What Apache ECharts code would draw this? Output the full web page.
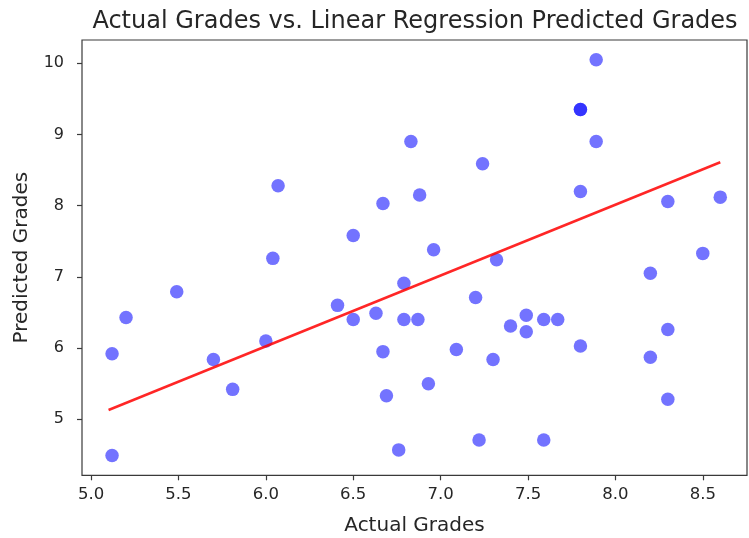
<!DOCTYPE html>
<html>
<head>
<meta charset="utf-8">
<script src="https://cdn.jsdelivr.net/npm/echarts@6/dist/echarts.min.js"></script>
<style>html,body{margin:0;padding:0;background:#fff}#c{width:749px;height:538px}</style>
</head>
<body>
<div id="c"></div>
<script>
var titleText = 'Actual Grades vs. Linear Regression Predicted Grades';
var xName = 'Actual Grades';
var yName = 'Predicted Grades';

var actual = [5.12, 5.12, 5.20, 5.49, 5.70, 5.81, 6.00, 6.04, 6.07, 6.41,
              6.50, 6.50, 6.63, 6.67, 6.67, 6.69, 6.76, 6.79, 6.79, 6.83,
              6.87, 6.88, 6.93, 6.96, 7.09, 7.20, 7.22, 7.24, 7.30, 7.32,
              7.40, 7.49, 7.49, 7.59, 7.59, 7.67, 7.80, 7.80, 7.80, 7.80,
              7.89, 7.89, 8.20, 8.20, 8.30, 8.30, 8.30, 8.50, 8.60];
var predicted = [5.92, 4.49, 6.43, 6.79, 5.84, 5.42, 6.10, 7.26, 8.28, 6.60,
                 6.40, 7.58, 6.49, 8.03, 5.95, 5.33, 4.57, 6.91, 6.40, 8.90,
                 6.40, 8.15, 5.50, 7.38, 5.98, 6.71, 4.71, 8.59, 5.84, 7.24,
                 6.31, 6.46, 6.23, 6.40, 4.71, 6.40, 9.35, 9.35, 8.20, 6.03,
                 10.05, 8.90, 7.05, 5.87, 8.06, 6.26, 5.28, 7.33, 8.12];

var fitX = [5.10, 8.60];
var fitY = [5.13, 8.61];

var xTicks = [5.0, 5.5, 6.0, 6.5, 7.0, 7.5, 8.0, 8.5];
var xTickLabels = ['5.0', '5.5', '6.0', '6.5', '7.0', '7.5', '8.0', '8.5'];
var yTicks = [5, 6, 7, 8, 9, 10];
var yTickLabels = ['5', '6', '7', '8', '9', '10'];

var font = 'DejaVu Sans';
var scatterData = actual.map(function (x, i) { return [x, predicted[i]]; });
var fitData = fitX.map(function (x, i) { return [x, fitY[i]]; });

var chart = echarts.init(document.getElementById('c'), null, {renderer: 'canvas'});
chart.setOption({
  animation: false,
  backgroundColor: '#ffffff',
  title: {
    text: titleText,
    left: 410,
    textAlign: 'center',
    top: 5,
    textStyle: {fontFamily: font, fontSize: 24, fontWeight: 'normal', color: '#262626'}
  },
  grid: {
    left: 82, top: 40, width: 665, height: 435.3,
    outerBoundsMode: 'none', containLabel: false,
    show: true, borderColor: '#3a3a3a', borderWidth: 1.2, backgroundColor: 'transparent'
  },
  xAxis: {
    type: 'value',
    min: 4.948, max: 8.753,
    name: xName, nameLocation: 'middle', nameGap: 40,
    nameTextStyle: {fontFamily: font, fontSize: 20, color: '#262626'},
    axisLine: {show: false},
    splitLine: {show: false},
    axisTick: {show: true, length: 5, customValues: xTicks, lineStyle: {color: '#3a3a3a', width: 1.2}},
    axisLabel: {
      customValues: xTicks, margin: 11,
      fontFamily: font, fontSize: 16.5, color: '#262626',
      formatter: function (v) { var i = xTicks.indexOf(v); return i >= 0 ? xTickLabels[i] : ''; }
    }
  },
  yAxis: {
    type: 'value',
    min: 4.213, max: 10.327,
    name: yName, nameLocation: 'middle', nameGap: 50, nameRotate: 90,
    nameTextStyle: {fontFamily: font, fontSize: 20, color: '#262626'},
    axisLine: {show: false},
    splitLine: {show: false},
    axisTick: {show: true, length: 5, customValues: yTicks, lineStyle: {color: '#3a3a3a', width: 1.2}},
    axisLabel: {
      customValues: yTicks, margin: 18,
      fontFamily: font, fontSize: 16, color: '#262626',
      formatter: function (v) { var i = yTicks.indexOf(v); return i >= 0 ? yTickLabels[i] : ''; }
    }
  },
  series: [
    {
      type: 'scatter',
      data: scatterData,
      symbolSize: 13.5,
      itemStyle: {color: 'rgb(0,0,255)', opacity: 0.55},
      z: 2
    },
    {
      type: 'line',
      data: fitData,
      showSymbol: false,
      symbol: 'none',
      lineStyle: {color: 'rgb(255,0,0)', width: 2.5, opacity: 0.85},
      z: 3
    }
  ]
});
</script>
</body>
</html>
